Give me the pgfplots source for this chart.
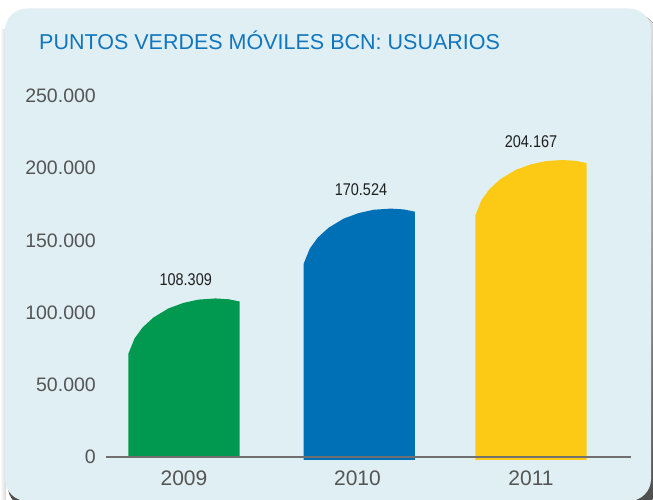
\documentclass[border=0pt]{standalone}
\usepackage{fontspec}
\setmainfont{Liberation Sans}
\newfontfamily\narrow[FakeStretch=0.85]{Liberation Sans}
\usepackage{pgfplots}
\pgfplotsset{compat=1.18}
\definecolor{panel}{RGB}{224,239,243}
\definecolor{titleblue}{RGB}{16,118,190}
\definecolor{tickgray}{RGB}{85,85,85}
\definecolor{axgray}{RGB}{112,112,112}
\definecolor{barGreen}{RGB}{0,153,79}
\definecolor{barBlue}{RGB}{0,112,182}
\definecolor{barYellow}{RGB}{252,202,20}
\begin{document}
\begin{tikzpicture}[x=1pt,y=1pt]
\useasboundingbox (0,0) rectangle (653,500);
% panel shadow and panel
\fill[left color=white,right color=black!15] (0,0) rectangle (6,470);
\fill[top color=black!12,bottom color=black!70,rounded corners=22pt] (8,-8) rectangle (657,486);
\fill[panel,rounded corners=22pt] (5,-1) rectangle (651,491.5);
% title
\node[anchor=base west,inner sep=0pt,text=titleblue,font=\fontsize{21.5}{26}\selectfont] at (39,450) {PUNTOS VERDES MÓVILES BCN: USUARIOS};
\begin{axis}[
  at={(106pt,43pt)}, anchor=south west,
  scale only axis, width=525pt, height=361pt,
  xmin=-0.4496, xmax=2.5764, ymin=0, ymax=250000,
  axis x line*=bottom, axis y line*=left,
  y axis line style={draw=none},
  x axis line style={draw=axgray,line width=1.5pt},
  axis on top, clip=false,
  xtick={0,1,2}, xticklabels={2009,2010,2011},
  ytick={0,50000,100000,150000,200000,250000},
  yticklabels={0,50.000,100.000,150.000,200.000,250.000},
  scaled y ticks=false,
  major tick length=0pt,
  y tick label style={anchor=east,inner sep=0pt,xshift=-10pt,text=tickgray,font=\fontsize{19.5}{23}\selectfont},
  x tick label style={anchor=north,inner sep=0pt,yshift=-14pt,text=tickgray,font=\fontsize{21}{25}\selectfont},
]
% 2009
\addplot[fill=barGreen,draw=none] coordinates {
 (-0.32,0) (-0.32,71709) (-0.285,82109) (-0.239,89709) (-0.176,96609) (-0.0895,102909)
 (-0.003,106709) (0.0835,109009) (0.181,109809) (0.256,109259) (0.32,107709) (0.32,0)};
% 2010
\addplot[fill=barBlue,draw=none] coordinates {
 (0.69,-2000) (0.69,133924) (0.725,144324) (0.771,151924) (0.834,158824) (0.9205,165124)
 (1.007,168924) (1.0935,171224) (1.191,172024) (1.266,171474) (1.33,169924) (1.33,-2000)};
% 2011
\addplot[fill=barYellow,draw=none] coordinates {
 (1.68,-2000) (1.68,167567) (1.715,177967) (1.761,185567) (1.824,192467) (1.9105,198767)
 (1.997,202567) (2.0835,204867) (2.181,205667) (2.256,205117) (2.32,203567) (2.32,-2000)};
% value labels
\addplot[draw=none,mark=none,nodes near coords,point meta=explicit symbolic,
  every node near coord/.append style={anchor=base,yshift=15pt,inner sep=0pt,text=black!88,font=\narrow\fontsize{17}{20}\selectfont}]
  coordinates {(0.01,108309)[108.309] (1.02,170524)[170.524] (2.0,204167)[204.167]};
\end{axis}
\end{tikzpicture}
\end{document}
